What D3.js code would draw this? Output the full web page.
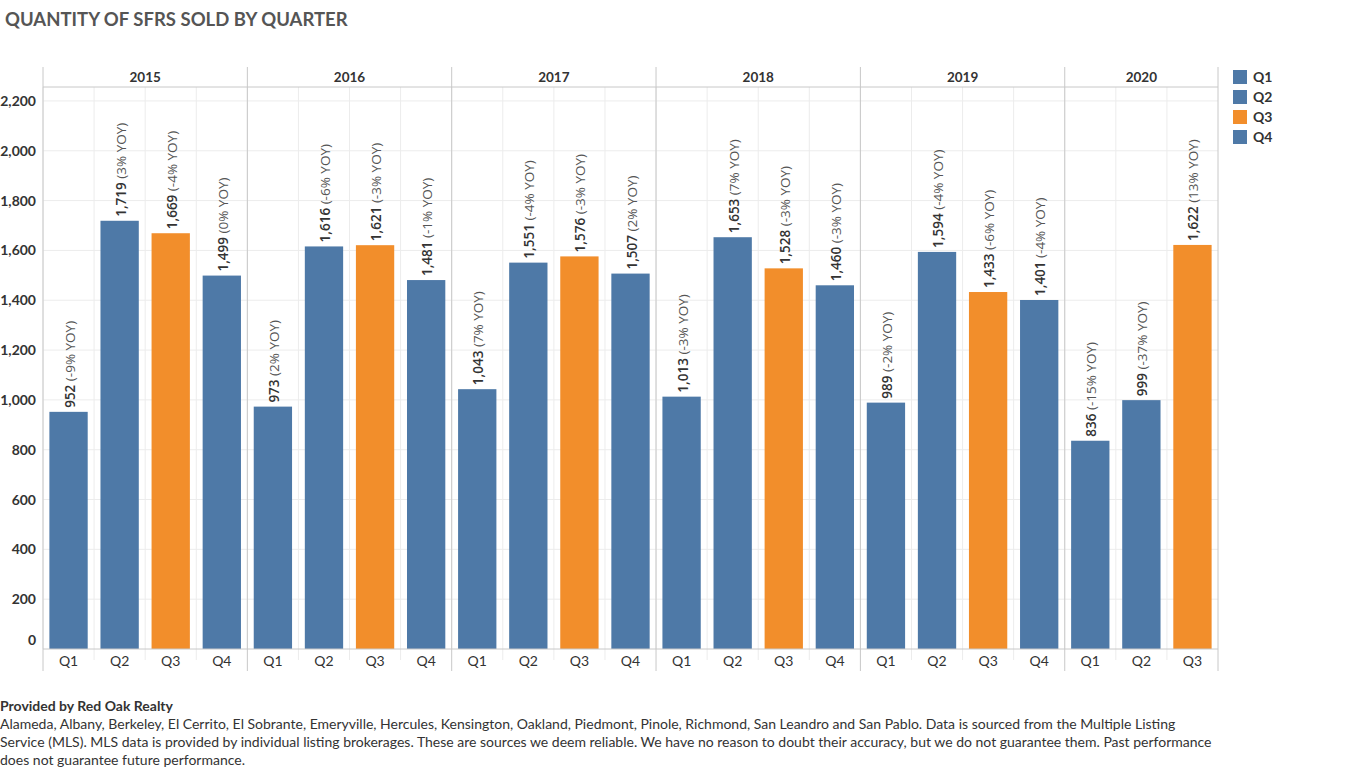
<!DOCTYPE html>
<html>
<head>
<meta charset="utf-8">
<script src="https://cdn.jsdelivr.net/npm/d3@7"></script>
<style>
  body { margin: 0; background: #fff; font-family: Lato, "Open Sans", sans-serif; }
  svg text { font-family: Lato, "Open Sans", sans-serif; }
  svg text.val { font-family: "Open Sans", sans-serif; }
</style>
</head>
<body>
<div id="chart"></div>
<script>
// data
var years = ["2015", "2016", "2017", "2018", "2019", "2020"];
var quarters = ["Q1", "Q2", "Q3", "Q4"];
var sold = [
  [952, 1719, 1669, 1499],
  [973, 1616, 1621, 1481],
  [1043, 1551, 1576, 1507],
  [1013, 1653, 1528, 1460],
  [989, 1594, 1433, 1401],
  [836, 999, 1622]
];
var yoy = [
  [-9, 3, -4, 0],
  [2, -6, -3, -1],
  [7, -4, -3, 2],
  [-3, 7, -3, -3],
  [-2, -4, -6, -4],
  [-15, -37, 13]
];
var yTicks = [0, 200, 400, 600, 800, 1000, 1200, 1400, 1600, 1800, 2000, 2200];
var footLines = [
  "Alameda, Albany, Berkeley, El Cerrito, El Sobrante, Emeryville, Hercules, Kensington, Oakland, Piedmont, Pinole, Richmond, San Leandro and San Pablo. Data is sourced from the Multiple Listing",
  "Service (MLS). MLS data is provided by individual listing brokerages. These are sources we deem reliable. We have no reason to doubt their accuracy, but we do not guarantee them. Past performance",
  "does not guarantee future performance."
];

var blue = "#4e79a7", orange = "#f28e2b";
var colorOf = q => q === "Q3" ? orange : blue;

var svgWidth = 1370, svgHeight = 770;
var plotLeft = 43, plotRight = 1218, plotTop = 87, base = 649, headTop = 67;

var svg = d3.select("#chart").append("svg")
  .attr("width", svgWidth)
  .attr("height", svgHeight);

// flatten into columns
var cols = [];
years.forEach(function(yr, i) {
  sold[i].forEach(function(v, j) {
    cols.push({year: yr, q: quarters[j], value: v, yoy: yoy[i][j], key: yr + "-" + quarters[j]});
  });
});

var x = d3.scaleBand()
  .domain(cols.map(d => d.key))
  .range([plotLeft, plotRight])
  .paddingInner(0.25)
  .paddingOuter(0.125);

var step = x.step();
var colStart = d => x(d.key) - x.paddingInner() * step / 2;

var y = d3.scaleLinear()
  .domain([0, 2256])
  .range([base, plotTop]);

// title
svg.append("text")
  .attr("x", 5).attr("y", 26)
  .style("font-size", "18.5px").style("font-weight", "bold")
  .style("fill", "#555")
  .text("QUANTITY OF SFRS SOLD BY QUARTER");

// horizontal grid
svg.append("g").selectAll("line")
  .data(yTicks.filter(t => t > 0))
  .enter().append("line")
  .attr("x1", plotLeft).attr("x2", plotRight)
  .attr("y1", d => y(d)).attr("y2", d => y(d))
  .attr("stroke", "#ececec");

// vertical light grid at column boundaries
svg.append("g").selectAll("line")
  .data(cols)
  .enter().append("line")
  .attr("x1", d => colStart(d)).attr("x2", d => colStart(d))
  .attr("y1", plotTop).attr("y2", d => d.q === "Q1" ? base : 660)
  .attr("stroke", "#ececec");

// bars
svg.append("g").selectAll("rect")
  .data(cols)
  .enter().append("rect")
  .attr("x", d => x(d.key))
  .attr("y", d => y(d.value))
  .attr("width", x.bandwidth())
  .attr("height", d => base - y(d.value))
  .attr("fill", d => colorOf(d.q));

// panel separators
var panelStarts = cols.filter(d => d.q === "Q1").map(d => colStart(d));
svg.append("g").selectAll("line")
  .data(panelStarts.concat([plotRight]))
  .enter().append("line")
  .attr("x1", d => d).attr("x2", d => d)
  .attr("y1", headTop).attr("y2", 671)
  .attr("stroke", "#c8c8c8");

// header line and baseline
svg.append("line")
  .attr("x1", plotLeft).attr("x2", plotRight).attr("y1", plotTop).attr("y2", plotTop)
  .attr("stroke", "#c8c8c8");
svg.append("line")
  .attr("x1", plotLeft).attr("x2", plotRight).attr("y1", base).attr("y2", base)
  .attr("stroke", "#c8c8c8");

// year headers
years.forEach(function(yr, i) {
  var x0 = panelStarts[i];
  var x1 = i < years.length - 1 ? panelStarts[i + 1] : plotRight;
  svg.append("text")
    .attr("x", (x0 + x1) / 2).attr("y", 82)
    .attr("text-anchor", "middle")
    .style("font-size", "13.5px").style("font-weight", "bold")
    .style("fill", "#333")
    .text(yr);
});

// y axis labels
svg.append("g").selectAll("text")
  .data(yTicks)
  .enter().append("text")
  .attr("x", 36)
  .attr("y", d => d === 0 ? y(d) - 4 : y(d) + 5)
  .attr("text-anchor", "end")
  .style("font-size", "14px").style("font-weight", "bold")
  .style("fill", "#333")
  .text(d => d3.format(",")(d));

// quarter labels
svg.append("g").selectAll("text")
  .data(cols)
  .enter().append("text")
  .attr("x", d => x(d.key) + x.bandwidth() / 2)
  .attr("y", 666)
  .attr("text-anchor", "middle")
  .style("font-size", "14px")
  .style("fill", "#333")
  .text(d => d.q);

// value labels
var lab = svg.append("g").selectAll("text")
  .data(cols)
  .enter().append("text")
  .attr("class", "val")
  .attr("transform", d => `translate(${x(d.key) + x.bandwidth() / 2 + 6}, ${y(d.value) - 4}) rotate(-90)`);
lab.append("tspan")
  .style("font-size", "13.5px")
  .style("font-weight", "600").style("fill", "#333")
  .text(d => d3.format(",")(d.value));
lab.append("tspan")
  .style("font-size", "13.5px")
  .style("fill", "#555")
  .text(d => " (" + d.yoy + "% YOY)");

// legend
var leg = svg.append("g").selectAll("g")
  .data(quarters)
  .enter().append("g")
  .attr("transform", (d, i) => `translate(1233, ${70 + i * 20})`);
leg.append("rect")
  .attr("width", 14).attr("height", 14)
  .attr("fill", d => colorOf(d));
leg.append("text")
  .attr("x", 20).attr("y", 12)
  .style("font-size", "14px").style("font-weight", "bold")
  .style("fill", "#333")
  .text(d => d);

// footer
svg.append("text")
  .attr("x", 0).attr("y", 711)
  .style("font-size", "14px").style("font-weight", "bold")
  .style("fill", "#333")
  .text("Provided by Red Oak Realty");
svg.append("g").selectAll("text")
  .data(footLines)
  .enter().append("text")
  .attr("x", 0).attr("y", (d, i) => 729 + i * 18)
  .style("font-size", "14px")
  .style("fill", "#333")
  .text(d => d);
</script>
</body>
</html>
